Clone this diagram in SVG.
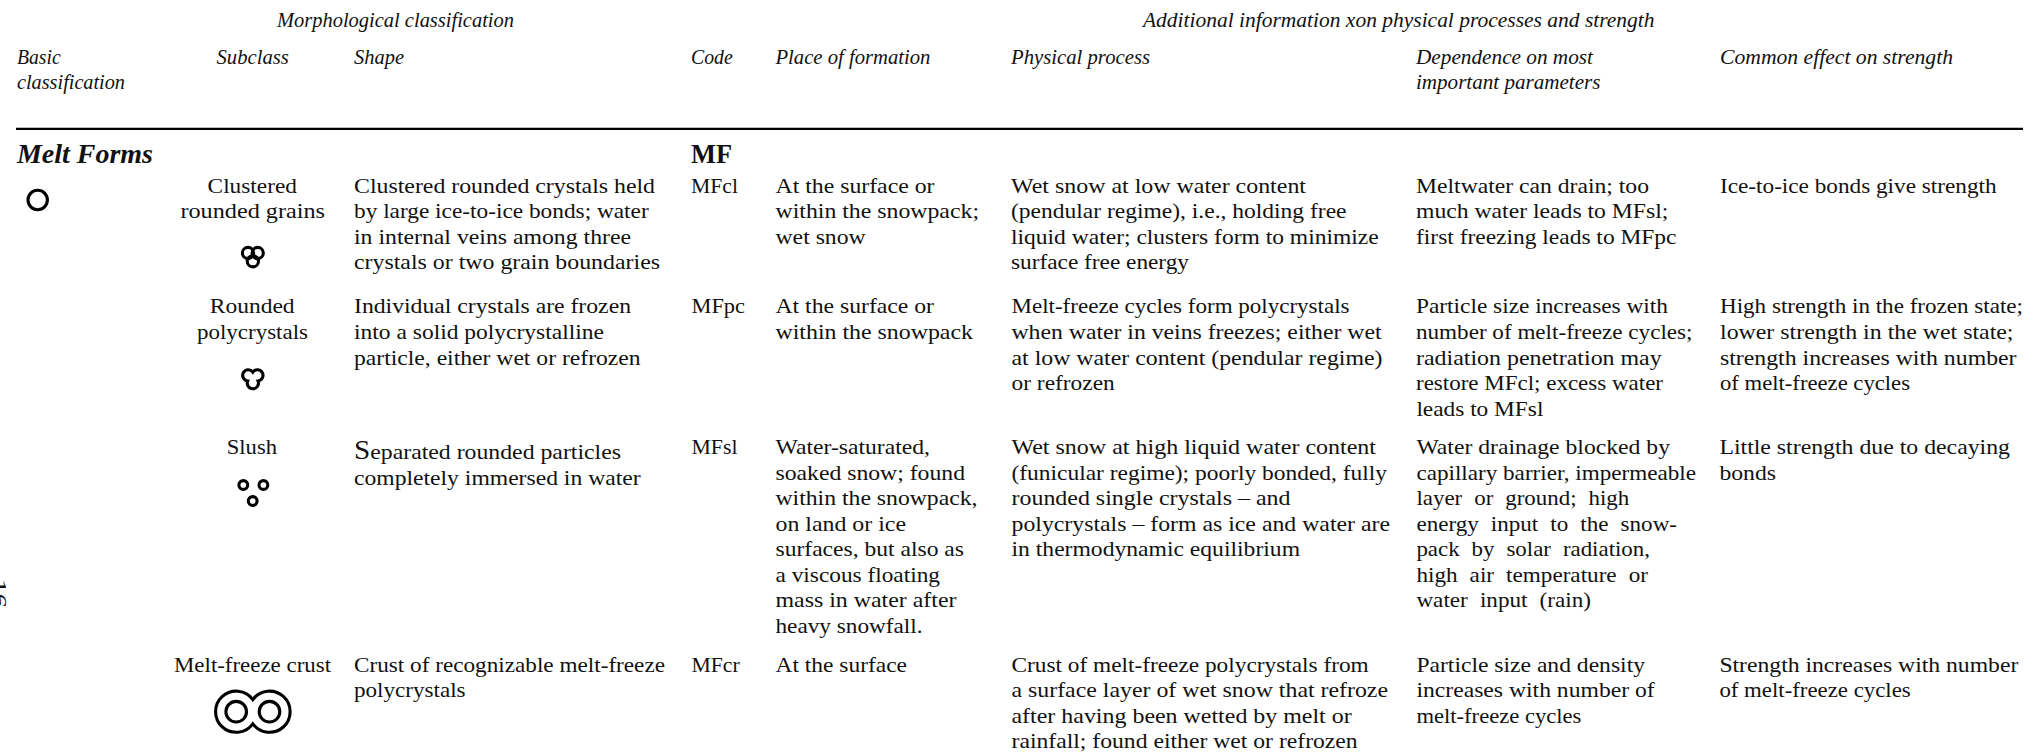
<svg xmlns="http://www.w3.org/2000/svg" width="2042" height="753" viewBox="0 0 2042 753">
<style>
text{font-family:"Liberation Serif","Times New Roman",serif;font-size:22px;fill:#111}
.h{font-style:italic}
.b{font-weight:bold;font-size:27px}
.bi{font-weight:bold;font-style:italic;font-size:27px}
.sym{fill:none;stroke:#000;stroke-width:3.1}
.w{word-spacing:6px}
</style>
<rect width="2042" height="753" fill="#fff"/>
<g id="headers">
<text class="h" x="277" y="27" textLength="237" lengthAdjust="spacingAndGlyphs">Morphological classification</text>
<text class="h" x="1143" y="27" textLength="511.5" lengthAdjust="spacingAndGlyphs">Additional information xon physical processes and strength</text>
<text class="h" x="17" y="64" textLength="43.7" lengthAdjust="spacingAndGlyphs">Basic</text>
<text class="h" x="17" y="89" textLength="108" lengthAdjust="spacingAndGlyphs">classification</text>
<text class="h" x="216.5" y="64" textLength="72.3" lengthAdjust="spacingAndGlyphs">Subclass</text>
<text class="h" x="354" y="64" textLength="50" lengthAdjust="spacingAndGlyphs">Shape</text>
<text class="h" x="691" y="64" textLength="41.7" lengthAdjust="spacingAndGlyphs">Code</text>
<text class="h" x="775.5" y="64" textLength="154.9" lengthAdjust="spacingAndGlyphs">Place of formation</text>
<text class="h" x="1011" y="64" textLength="139" lengthAdjust="spacingAndGlyphs">Physical process</text>
<text class="h" x="1416" y="64" textLength="177" lengthAdjust="spacingAndGlyphs">Dependence on most</text>
<text class="h" x="1416" y="89" textLength="184.4" lengthAdjust="spacingAndGlyphs">important parameters</text>
<text class="h" x="1720" y="64" textLength="233" lengthAdjust="spacingAndGlyphs">Common effect on strength</text>
<line x1="16" y1="128.8" x2="2023" y2="128.8" stroke="#000" stroke-width="2.3"/>
</g>
<g id="class-melt-forms">
<text class="bi" x="17" y="162.7" textLength="136" lengthAdjust="spacingAndGlyphs">Melt Forms</text>
<text class="b" x="691" y="163" textLength="41" lengthAdjust="spacingAndGlyphs">MF</text>
<circle class="sym" cx="37.7" cy="200" r="9.7"/>
</g>
<g id="row-MFcl">
<text x="207.6" y="192.5" textLength="89.3" lengthAdjust="spacingAndGlyphs">Clustered</text>
<text x="180.4" y="218" textLength="144.6" lengthAdjust="spacingAndGlyphs">rounded grains</text>
<g class="sym"><circle cx="248" cy="253" r="5.6"/><circle cx="257.7" cy="253" r="5.6"/><circle cx="252.85" cy="261.3" r="5.6"/></g>
<text x="354" y="192.5" textLength="301" lengthAdjust="spacingAndGlyphs">Clustered rounded crystals held</text>
<text x="354" y="218" textLength="294.7" lengthAdjust="spacingAndGlyphs">by large ice-to-ice bonds; water</text>
<text x="354" y="243.5" textLength="277" lengthAdjust="spacingAndGlyphs">in internal veins among three</text>
<text x="354" y="268.5" textLength="306" lengthAdjust="spacingAndGlyphs">crystals or two grain boundaries</text>
<text x="691" y="192.5" textLength="47" lengthAdjust="spacingAndGlyphs">MFcl</text>
<text x="775.5" y="192.5" textLength="159" lengthAdjust="spacingAndGlyphs">At the surface or</text>
<text x="775.5" y="218" textLength="203.5" lengthAdjust="spacingAndGlyphs">within the snowpack;</text>
<text x="775.5" y="243.5" textLength="90.2" lengthAdjust="spacingAndGlyphs">wet snow</text>
<text x="1011" y="192.5" textLength="295" lengthAdjust="spacingAndGlyphs">Wet snow at low water content</text>
<text x="1011" y="218" textLength="335.5" lengthAdjust="spacingAndGlyphs">(pendular regime), i.e., holding free</text>
<text x="1011" y="243.5" textLength="367.7" lengthAdjust="spacingAndGlyphs">liquid water; clusters form to minimize</text>
<text x="1011" y="268.5" textLength="178" lengthAdjust="spacingAndGlyphs">surface free energy</text>
<text x="1416" y="192.5" textLength="233" lengthAdjust="spacingAndGlyphs">Meltwater can drain; too</text>
<text x="1416" y="218" textLength="252.4" lengthAdjust="spacingAndGlyphs">much water leads to MFsl;</text>
<text x="1416" y="243.5" textLength="260.5" lengthAdjust="spacingAndGlyphs">first freezing leads to MFpc</text>
<text x="1720" y="192.5" textLength="276.6" lengthAdjust="spacingAndGlyphs">Ice-to-ice bonds give strength</text>
</g>
<g id="row-MFpc">
<text x="209.8" y="313" textLength="84.8" lengthAdjust="spacingAndGlyphs">Rounded</text>
<text x="197" y="339" textLength="111" lengthAdjust="spacingAndGlyphs">polycrystals</text>
<path class="sym" d="M252.85 372.1A5.6 5.6 0 1 1 258 380.95A5.6 5.6 0 1 1 247.7 380.95A5.6 5.6 0 1 1 252.85 372.1Z"/>
<text x="354" y="313" textLength="277" lengthAdjust="spacingAndGlyphs">Individual crystals are frozen</text>
<text x="354" y="339" textLength="250" lengthAdjust="spacingAndGlyphs">into a solid polycrystalline</text>
<text x="354" y="364.5" textLength="286.6" lengthAdjust="spacingAndGlyphs">particle, either wet or refrozen</text>
<text x="691.5" y="313" textLength="53.5" lengthAdjust="spacingAndGlyphs">MFpc</text>
<text x="775.5" y="313" textLength="158.5" lengthAdjust="spacingAndGlyphs">At the surface or</text>
<text x="775.5" y="339" textLength="197.5" lengthAdjust="spacingAndGlyphs">within the snowpack</text>
<text x="1011.5" y="313" textLength="338" lengthAdjust="spacingAndGlyphs">Melt-freeze cycles form polycrystals</text>
<text x="1011.5" y="339" textLength="370" lengthAdjust="spacingAndGlyphs">when water in veins freezes; either wet</text>
<text x="1011.5" y="364.5" textLength="371" lengthAdjust="spacingAndGlyphs">at low water content (pendular regime)</text>
<text x="1011.5" y="390" textLength="103.3" lengthAdjust="spacingAndGlyphs">or refrozen</text>
<text x="1416" y="313" textLength="252" lengthAdjust="spacingAndGlyphs">Particle size increases with</text>
<text x="1416" y="339" textLength="276.5" lengthAdjust="spacingAndGlyphs">number of melt-freeze cycles;</text>
<text x="1416" y="364.5" textLength="245.7" lengthAdjust="spacingAndGlyphs">radiation penetration may</text>
<text x="1416" y="390" textLength="247" lengthAdjust="spacingAndGlyphs">restore MFcl; excess water</text>
<text x="1416.4" y="415.7" textLength="127" lengthAdjust="spacingAndGlyphs">leads to MFsl</text>
<text x="1720" y="313" textLength="303" lengthAdjust="spacingAndGlyphs">High strength in the frozen state;</text>
<text x="1720" y="339" textLength="293.5" lengthAdjust="spacingAndGlyphs">lower strength in the wet state;</text>
<text x="1720" y="364.5" textLength="296.5" lengthAdjust="spacingAndGlyphs">strength increases with number</text>
<text x="1720" y="390" textLength="190" lengthAdjust="spacingAndGlyphs">of melt-freeze cycles</text>
</g>
<g id="row-MFsl">
<text x="226.8" y="454" textLength="50.2" lengthAdjust="spacingAndGlyphs">Slush</text>
<g class="sym"><circle cx="243.3" cy="485" r="4.4"/><circle cx="263.4" cy="485" r="4.4"/><circle cx="252.7" cy="501" r="4.4"/></g>
<text x="354" y="459" textLength="267" lengthAdjust="spacingAndGlyphs"><tspan style="font-size:27px">S</tspan>eparated rounded particles</text>
<text x="354" y="485" textLength="286.6" lengthAdjust="spacingAndGlyphs">completely immersed in water</text>
<text x="691.5" y="454" textLength="46" lengthAdjust="spacingAndGlyphs">MFsl</text>
<text x="775.5" y="454" textLength="154.5" lengthAdjust="spacingAndGlyphs">Water-saturated,</text>
<text x="775.5" y="480" textLength="189.5" lengthAdjust="spacingAndGlyphs">soaked snow; found</text>
<text x="775.5" y="505" textLength="202" lengthAdjust="spacingAndGlyphs">within the snowpack,</text>
<text x="775.5" y="531" textLength="130.5" lengthAdjust="spacingAndGlyphs">on land or ice</text>
<text x="775.5" y="556" textLength="188.5" lengthAdjust="spacingAndGlyphs">surfaces, but also as</text>
<text x="775.5" y="582" textLength="164.5" lengthAdjust="spacingAndGlyphs">a viscous floating</text>
<text x="775.5" y="607" textLength="181" lengthAdjust="spacingAndGlyphs">mass in water after</text>
<text x="775.5" y="633" textLength="147" lengthAdjust="spacingAndGlyphs">heavy snowfall.</text>
<text x="1011.5" y="454" textLength="364.5" lengthAdjust="spacingAndGlyphs">Wet snow at high liquid water content</text>
<text x="1011.5" y="480" textLength="375.5" lengthAdjust="spacingAndGlyphs">(funicular regime); poorly bonded, fully</text>
<text x="1011.5" y="505" textLength="279" lengthAdjust="spacingAndGlyphs">rounded single crystals – and</text>
<text x="1011.5" y="531" textLength="378.5" lengthAdjust="spacingAndGlyphs">polycrystals – form as ice and water are</text>
<text x="1011.5" y="556" textLength="288.5" lengthAdjust="spacingAndGlyphs">in thermodynamic equilibrium</text>
<text x="1416.4" y="454" textLength="253.6" lengthAdjust="spacingAndGlyphs">Water drainage blocked by</text>
<text x="1416.4" y="480" textLength="279.6" lengthAdjust="spacingAndGlyphs">capillary barrier, impermeable</text>
<text class="w" x="1416.4" y="505" textLength="212.9" lengthAdjust="spacingAndGlyphs">layer or ground; high</text>
<text class="w" x="1416.4" y="531" textLength="260.6" lengthAdjust="spacingAndGlyphs">energy input to the snow-</text>
<text class="w" x="1416.4" y="556" textLength="233.6" lengthAdjust="spacingAndGlyphs">pack by solar radiation,</text>
<text class="w" x="1416.4" y="582" textLength="231.6" lengthAdjust="spacingAndGlyphs">high air temperature or</text>
<text class="w" x="1416.4" y="607" textLength="174.6" lengthAdjust="spacingAndGlyphs">water input (rain)</text>
<text x="1719.4" y="454" textLength="290.6" lengthAdjust="spacingAndGlyphs">Little strength due to decaying</text>
<text x="1719.4" y="480" textLength="56.6" lengthAdjust="spacingAndGlyphs">bonds</text>
</g>
<g id="row-MFcr">
<text x="174" y="672" textLength="157" lengthAdjust="spacingAndGlyphs">Melt-freeze crust</text>
<g class="sym"><circle cx="236.2" cy="711.7" r="10.3"/><circle cx="269.5" cy="711.7" r="10.3"/><path d="M252.85 699.6A20.6 20.6 0 1 0 252.85 723.8A20.6 20.6 0 1 0 252.85 699.6Z"/></g>
<text x="354" y="672" textLength="311" lengthAdjust="spacingAndGlyphs">Crust of recognizable melt-freeze</text>
<text x="354" y="697" textLength="111.6" lengthAdjust="spacingAndGlyphs">polycrystals</text>
<text x="691.5" y="672" textLength="48.2" lengthAdjust="spacingAndGlyphs">MFcr</text>
<text x="775.5" y="672" textLength="131.5" lengthAdjust="spacingAndGlyphs">At the surface</text>
<text x="1011.5" y="672" textLength="357.2" lengthAdjust="spacingAndGlyphs">Crust of melt-freeze polycrystals from</text>
<text x="1011.5" y="697" textLength="376.5" lengthAdjust="spacingAndGlyphs">a surface layer of wet snow that refroze</text>
<text x="1011.5" y="723" textLength="340.2" lengthAdjust="spacingAndGlyphs">after having been wetted by melt or</text>
<text x="1011.5" y="748" textLength="346.2" lengthAdjust="spacingAndGlyphs">rainfall; found either wet or refrozen</text>
<text x="1416.4" y="672" textLength="228.6" lengthAdjust="spacingAndGlyphs">Particle size and density</text>
<text x="1416.4" y="697" textLength="238.3" lengthAdjust="spacingAndGlyphs">increases with number of</text>
<text x="1416.4" y="723" textLength="165" lengthAdjust="spacingAndGlyphs">melt-freeze cycles</text>
<text x="1719.4" y="672" textLength="298.9" lengthAdjust="spacingAndGlyphs">Strength increases with number</text>
<text x="1719.4" y="697" textLength="191.3" lengthAdjust="spacingAndGlyphs">of melt-freeze cycles</text>
</g>
<text transform="translate(-8 579) rotate(90)" textLength="29" lengthAdjust="spacingAndGlyphs">16</text>
</svg>
